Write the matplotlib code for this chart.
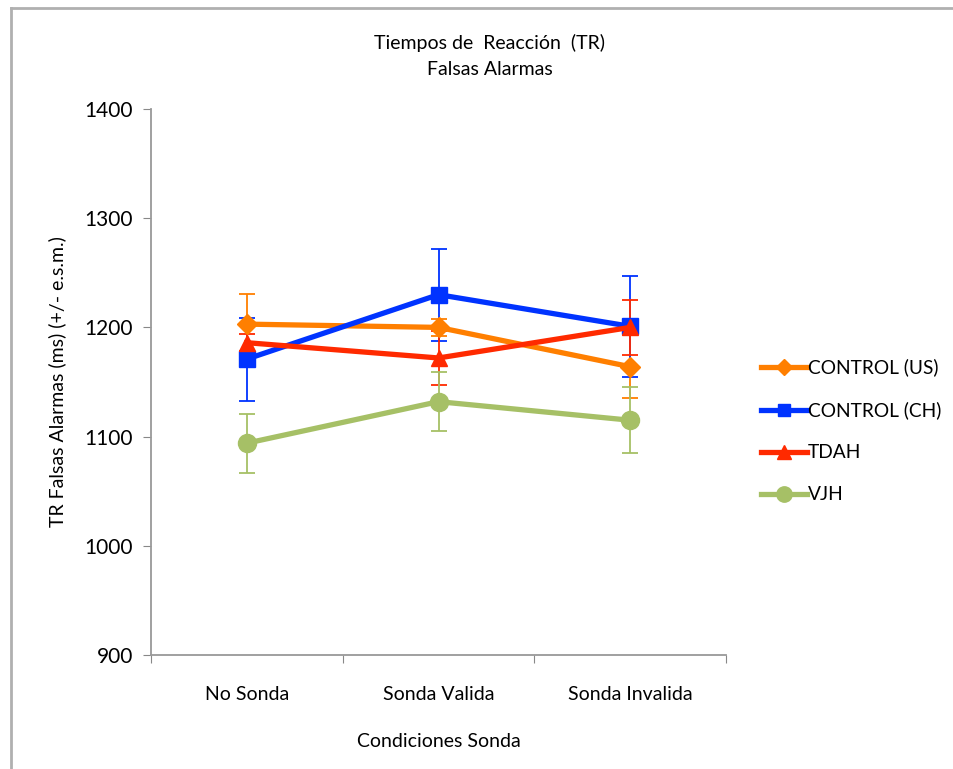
import matplotlib.pyplot as plt
from matplotlib.lines import Line2D

plt.rcParams['font.family'] = ['Lato', 'DejaVu Sans']

conditions = ['No Sonda', 'Sonda Valida', 'Sonda Invalida']
groups = ['CONTROL (US)', 'CONTROL (CH)', 'TDAH', 'VJH']
means = {
    'CONTROL (US)': [1203, 1200, 1164],
    'CONTROL (CH)': [1171, 1230, 1201],
    'TDAH': [1186, 1172, 1200],
    'VJH': [1094, 1132, 1115],
}
errors = {
    'CONTROL (US)': [28, 8, 29],
    'CONTROL (CH)': [38, 42, 46],
    'TDAH': [8, 25, 25],
    'VJH': [27, 27, 30],
}
colors = {'CONTROL (US)': '#ff7f00', 'CONTROL (CH)': '#0033ff',
          'TDAH': '#ff2a00', 'VJH': '#a6c066'}
markers = {'CONTROL (US)': ('D', 10), 'CONTROL (CH)': ('s', 11),
           'TDAH': ('^', 12), 'VJH': ('o', 13)}

fig = plt.figure(figsize=(9.54, 7.69), dpi=100)
ax = fig.add_axes([151 / 954, 1 - 655 / 769, 575 / 954, 546 / 769])

xs = [0.5 + i for i in range(len(conditions))]
for g in groups:
    m, ms = markers[g]
    ax.errorbar(xs, means[g], yerr=errors[g], color=colors[g], lw=3.8,
                marker=m, markersize=ms, elinewidth=1.3, capsize=6,
                capthick=1.3, label=g)

ax.set_xlim(0, 3)
ax.set_ylim(900, 1400)
ax.set_yticks(range(900, 1401, 100))
ax.set_xticks([0, 1, 2, 3])
ax.set_xticklabels([])
ax.set_xticks(xs, minor=True)
ax.set_xticklabels(conditions, minor=True)
ax.tick_params(axis='x', which='minor', length=0, pad=22, labelsize=14)
ax.tick_params(axis='x', which='major', length=6, color='#888888', direction='out')
ax.tick_params(axis='y', length=6, color='#888888', labelsize=15, pad=7)
for s in ['top', 'right']:
    ax.spines[s].set_visible(False)
for s in ['left', 'bottom']:
    ax.spines[s].set_color('#999999')
    ax.spines[s].set_linewidth(1.3)

ax.set_xlabel('Condiciones Sonda', fontsize=14, labelpad=22)
ax.set_ylabel('TR Falsas Alarmas (ms) (+/- e.s.m.)', fontsize=14, labelpad=13)
fig.text(490 / 954, 1 - 56 / 769, 'Tiempos de  Reacción  (TR)\nFalsas Alarmas',
         ha='center', va='center', fontsize=14, linespacing=1.7)

handles = [Line2D([], [], color=colors[g], lw=3.8, marker=markers[g][0],
                  markersize=markers[g][1] * 0.85) for g in groups]
fig.legend(handles, groups, loc='center left', bbox_to_anchor=(744 / 954, 1 - 431 / 769),
           frameon=False, fontsize=13.8, handlelength=2.4, handletextpad=0.05,
           labelspacing=1.3)

fig.add_artist(Line2D([11 / 954, 11 / 954], [0, 1 - 8 / 769], transform=fig.transFigure,
                      color='#b0b0b0', lw=2))
fig.add_artist(Line2D([11 / 954, 1], [1 - 8 / 769, 1 - 8 / 769], transform=fig.transFigure,
                      color='#b0b0b0', lw=2))

fig.savefig('out.png', dpi=100)
